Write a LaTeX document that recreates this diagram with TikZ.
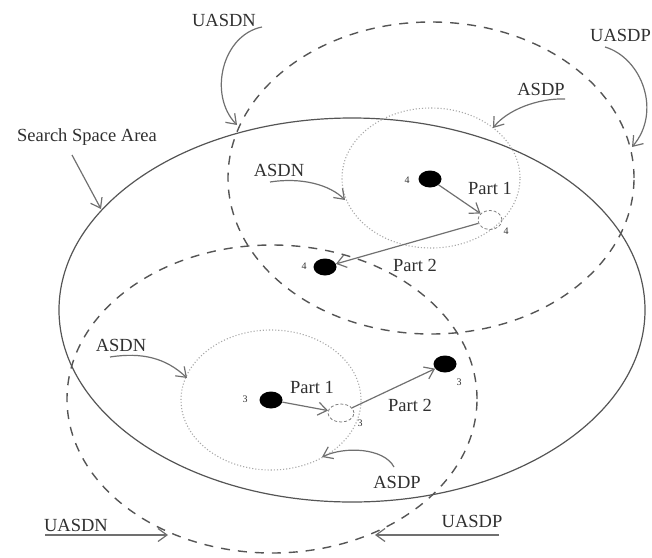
\documentclass[tikz,border=0pt]{standalone}
\usepackage{fontspec}
\setmainfont{Liberation Serif}
\usetikzlibrary{arrows.meta,shapes.geometric}
\definecolor{linegray}{HTML}{555555}
\definecolor{arrgray}{HTML}{707070}
\definecolor{dotgray}{HTML}{A8A8A8}
\definecolor{txtgray}{HTML}{303030}
\tikzset{
  lbl/.style={font=\fontsize{18.5}{20}\selectfont, text=txtgray, inner sep=0pt},
  num/.style={font=\fontsize{10}{11}\selectfont, text=txtgray, inner sep=0pt},
  bigdash/.style={draw=linegray, line width=1.4pt, dash pattern=on 9pt off 8pt, ellipse, inner sep=0pt},
  dotring/.style={draw=dotgray, line width=1.1pt, dotted, ellipse, inner sep=0pt},
  solidring/.style={draw=linegray, line width=1.2pt, ellipse, inner sep=0pt},
  agent/.style={fill=black, ellipse, inner sep=0pt, minimum width=23pt, minimum height=17pt},
  ghost/.style={draw=gray, densely dashed, line width=0.8pt, ellipse, inner sep=0pt, minimum width=24pt, minimum height=19pt},
  pointer/.style={draw=arrgray, line width=1.2pt, -{Straight Barb[length=9pt,width=13pt,line width=1.2pt]}},
}
\begin{document}
\begin{tikzpicture}[x=1pt,y=-1pt]
\useasboundingbox (0,0) rectangle (652,557);
% main search space
\node[solidring, minimum width=586pt, minimum height=384pt] (ssa) at (352,310) {};
% big dashed ellipses
\node[bigdash, minimum width=406pt, minimum height=312pt] (uup) at (431,178) {};
\node[bigdash, minimum width=410pt, minimum height=308pt] (ulo) at (272,399) {};
% dotted rings
\node[dotring, minimum width=178pt, minimum height=140pt] (aup) at (431,178) {};
\node[dotring, minimum width=180pt, minimum height=140pt] (alo) at (271,400) {};
% agents
\node[agent] (d4a) at (430,179) {};
\node[agent] (d4b) at (325,267) {};
\node[agent] (d3a) at (271,400) {};
\node[agent] (d3b) at (445,364) {};
\node[ghost] (c4) at (490,220) {};
\node[ghost, minimum width=26pt, minimum height=18pt] (c3) at (341,413) {};
% numbers
\node[num] (n1) at (407,180) {4};
\node[num] (n2) at (506,231) {4};
\node[num] (n3) at (304,266) {4};
\node[num] (n4) at (245,399) {3};
\node[num] (n5) at (360,423) {3};
\node[num] (n6) at (459,382) {3};
% part arrows
\draw[pointer] (d4a) -- (c4);
\draw[pointer] (c4) -- (d4b);
\draw[pointer] (d3a) -- (c3);
\draw[pointer] (c3) -- (d3b);
\node[lbl] (p1u) at (490,188) {Part 1};
\node[lbl] (p2u) at (415,265) {Part 2};
\node[lbl] (p1l) at (312,387) {Part 1};
\node[lbl] (p2l) at (410,405) {Part 2};
% labels with pointers
\node[lbl] (tUN) at (224,20) {UASDN};
\coordinate (sUN) at (262,27);
\coordinate (eUN) at (237,125);
\draw[pointer] (sUN) .. controls (222,35) and (208,95) .. (eUN);

\node[lbl, anchor=east] (tUP) at (651,35) {UASDP};
\coordinate (sUP) at (605,47);
\coordinate (eUP) at (632,147);
\draw[pointer] (sUP) .. controls (642,58) and (662,112) .. (eUP);

\node[lbl] (tAP) at (541,89) {ASDP};
\coordinate (sAP) at (565,99);
\coordinate (eAP) at (493,128);
\draw[pointer] (sAP) .. controls (538,98) and (507,110) .. (eAP);

\node[lbl] (tAN) at (279,170) {ASDN};
\coordinate (sAN) at (270,182);
\coordinate (eAN) at (345,200);
\draw[pointer] (sAN) .. controls (302,177) and (330,185) .. (eAN);

\node[lbl] (tSSA) at (87,137) {Search Space Area};
\coordinate (sSSA) at (72,155);
\coordinate (eSSA) at (101,209);
\draw[pointer] (sSSA) -- (eSSA);

\node[lbl] (tAN2) at (121,345) {ASDN};
\coordinate (sAN2) at (110,357);
\coordinate (eAN2) at (187,378);
\draw[pointer] (sAN2) .. controls (142,352) and (166,358) .. (eAN2);

\node[lbl] (tAP2) at (397,482) {ASDP};
\coordinate (sAP2) at (394,467);
\coordinate (eAP2) at (322,457);
\draw[pointer] (sAP2) .. controls (384,448) and (345,446) .. (eAP2);

\node[lbl] (tUN2) at (76,525) {UASDN};
\coordinate (sUN2) at (45,535);
\coordinate (eUN2) at (168,535);
\draw[pointer] (sUN2) -- (eUN2);

\node[lbl] (tUP2) at (472,521) {UASDP};
\coordinate (sUP2) at (499,535);
\coordinate (eUP2) at (375,535);
\draw[pointer] (sUP2) -- (eUP2);
\end{tikzpicture}
\end{document}
